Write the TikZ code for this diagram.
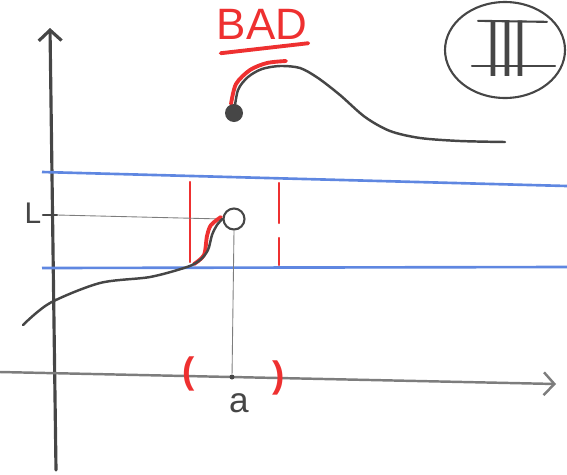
\documentclass[tikz,border=0pt]{standalone}
\usepackage{fontspec}
\setmainfont{Liberation Sans}
\usepackage{tikz}
\usetikzlibrary{arrows.meta,shapes.geometric,positioning,calc}
\definecolor{pencilDark}{RGB}{70,70,70}
\definecolor{pencilLight}{RGB}{125,125,125}
\definecolor{markerBlue}{RGB}{95,135,225}
\definecolor{markerRed}{RGB}{238,48,48}
\tikzset{
  axisLine/.style={draw=pencilDark, line width=1.8pt, line cap=round},
  bandLine/.style={draw=markerBlue, line width=1.5pt},
  graphCurve/.style={draw=pencilDark, line width=1.4pt, line cap=round},
  highlight/.style={draw=markerRed, line width=2.2pt, line cap=round},
  guideLine/.style={draw=pencilLight, line width=0.5pt},
  sketchArrow/.style={-{Straight Barb[length=6pt,width=13pt]}}
}
\begin{document}
\begin{tikzpicture}[
    x=0.02cm, y=-0.02cm,
    lbl/.style={font=\fontsize{20}{24}\selectfont, text=pencilDark, inner sep=0pt},
    dotmark/.style={circle, fill=pencilDark, inner sep=0pt},
    bracket/.style={text=markerRed, font=\fontsize{21}{24}\selectfont\bfseries, inner sep=0pt}
  ]
  \useasboundingbox (0,0) rectangle (567,474);
  \coordinate (yStart) at (56,470);
  \coordinate (yEnd) at (50,28);
  \coordinate (xStart) at (0,372);
  \coordinate (xEnd) at (556,384);
  \draw[axisLine, sketchArrow] (yStart) -- (yEnd);
  \draw[axisLine, draw=pencilLight, line width=1.4pt, sketchArrow] (xStart) -- (xEnd);

  \draw[bandLine] (42,172) -- (567,186);
  \draw[bandLine] (42,268) -- (567,267);

  \node[lbl, font=\fontsize{17}{20}\selectfont] (labelL) at (33,213) {L};
  \coordinate (tickL) at (43,215);
  \coordinate (tickR) at (57,215);
  \draw[axisLine, line width=1.2pt] (tickL) -- (tickR);

  \draw[highlight, line width=1.3pt] (190,182) -- (190,262);
  \draw[highlight, line width=1.3pt, dash pattern=on 0.8cm off 0.3cm] (279,183) -- (279,265);

  \node[circle, draw=pencilDark, line width=1.2pt, fill=white, minimum size=0.42cm,
        inner sep=0pt] (openPt) at (234,219) {};
  \node[dotmark, minimum size=0.1cm] (aPt) at (232,377) {};
  \node[lbl] (labelA) at (239,403) {a};
  \draw[guideLine] (tickR) -- (openPt.west);
  \draw[guideLine] (openPt.south) -- (aPt);

  \node[bracket] (leftBr) at (189,374) {(};
  \node[bracket] (rightBr) at (279,378) {)};

  \draw[highlight] plot[smooth] coordinates {(194,264) (204,255) (207,236) (211,225) (221,217)};
  \draw[graphCurve] plot[smooth] coordinates {(23,325) (50,303) (100,283) (150,277)
        (187,267) (200,260) (208,250) (212,235) (217,225) (openPt.west)};

  \draw[highlight] plot[smooth] coordinates {(231,104) (236,84) (250,70) (267,63) (286,61)};
  \draw[graphCurve] plot[smooth] coordinates {(234,113) (238,90) (248,77) (262,69) (280,66)
        (300,68) (318,78) (340,95) (365,117) (390,131) (420,138) (460,141) (505,142)};
  \node[dotmark, minimum size=0.36cm] (closedPt) at (234,113) {};

  \node[font=\fontsize{25}{28}\selectfont, text=markerRed, inner sep=1pt] (badLabel) at (262,24) {BAD};
  \draw[highlight] ($(badLabel.south west)+(6,12)$) -- ($(badLabel.south east)+(-1,2)$);

  \node[ellipse, draw=pencilDark, line width=1.2pt, minimum width=2.4cm,
        minimum height=1.92cm] (badge) at (505,50) {};
  \node[font=\fontsize{46}{50}\selectfont, text=pencilDark, inner sep=0pt] (numeral) at (507,49) {\scalebox{0.62}[1]{III}};
  \draw[axisLine, line width=1.2pt] ($(numeral.north)+(-29,0)$) -- ($(numeral.north)+(40,1)$);
  \draw[axisLine, line width=1.2pt] ($(numeral.south)+(-35,-11)$) -- ($(numeral.south)+(48,-11)$);
\end{tikzpicture}
\end{document}
